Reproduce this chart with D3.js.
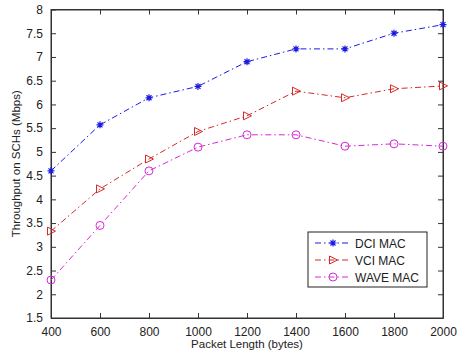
<!DOCTYPE html>
<html>
<head>
<meta charset="utf-8">
<script src="https://cdn.jsdelivr.net/npm/d3@7"></script>
<style>
body { margin: 0; background: #fff; }
text { font-family: "Liberation Sans", Arial, sans-serif; }
</style>
</head>
<body>
<div id="chart"></div>
<script>
// data
var packetLength = [400, 600, 800, 1000, 1200, 1400, 1600, 1800, 2000];
var dciMac  = [4.6, 5.57, 6.14, 6.38, 6.9, 7.17, 7.17, 7.5, 7.68];
var vciMac  = [3.33, 4.22, 4.85, 5.43, 5.76, 6.28, 6.14, 6.33, 6.39];
var waveMac = [2.3, 3.45, 4.6, 5.1, 5.36, 5.36, 5.12, 5.17, 5.12];
var xTicks = [400, 600, 800, 1000, 1200, 1400, 1600, 1800, 2000];
var yTicks = [1.5, 2, 2.5, 3, 3.5, 4, 4.5, 5, 5.5, 6, 6.5, 7, 7.5, 8];

var series = [
	{ name: 'DCI MAC', values: dciMac, color: '#1a1ae6', marker: 'star' },
	{ name: 'VCI MAC', values: vciMac, color: '#d42a2a', marker: 'tri' },
	{ name: 'WAVE MAC', values: waveMac, color: '#d62ad6', marker: 'circle' }
];

// build canvas
var width = 459,
	height = 354;
var margin = { left: 51, top: 9.5, right: 16, bottom: 36 };
var pw = width - margin.left - margin.right,
	ph = height - margin.top - margin.bottom;

var svg = d3.select('#chart').append('svg')
	.attr('width', width)
	.attr('height', height);

var x = d3.scaleLinear().domain([400, 2000]).range([margin.left, margin.left + pw]);
var y = d3.scaleLinear().domain([1.5, 8]).range([margin.top + ph, margin.top]);

// axes with inward ticks
var fmt = d => String(d);
svg.append('g')
	.attr('transform', 'translate(0,' + (margin.top + ph) + ')')
	.call(d3.axisBottom(x).tickValues(xTicks).tickFormat(fmt).tickSizeInner(-5).tickSizeOuter(0).tickPadding(9));
svg.append('g')
	.attr('transform', 'translate(0,' + margin.top + ')')
	.call(d3.axisTop(x).tickValues(xTicks).tickFormat('').tickSizeInner(-5).tickSizeOuter(0));
svg.append('g')
	.attr('transform', 'translate(' + margin.left + ',0)')
	.call(d3.axisLeft(y).tickValues(yTicks).tickFormat(fmt).tickSizeInner(-5).tickSizeOuter(0).tickPadding(8));
svg.append('g')
	.attr('transform', 'translate(' + (margin.left + pw) + ',0)')
	.call(d3.axisRight(y).tickValues(yTicks).tickFormat('').tickSizeInner(-5).tickSizeOuter(0));

svg.selectAll('.domain').attr('stroke', '#333');
svg.selectAll('.tick line').attr('stroke', '#333');
svg.selectAll('.tick text').attr('font-size', 12).attr('fill', '#222');

svg.append('rect')
	.attr('x', margin.left).attr('y', margin.top)
	.attr('width', pw).attr('height', ph)
	.attr('fill', 'none').attr('stroke', '#333');

// axis labels
svg.append('text')
	.attr('x', margin.left + pw / 2).attr('y', 348)
	.attr('text-anchor', 'middle').attr('font-size', 11.5).attr('fill', '#222')
	.text('Packet Length (bytes)');
svg.append('text')
	.attr('transform', 'translate(20,' + (margin.top + ph / 2) + ') rotate(-90)')
	.attr('text-anchor', 'middle').attr('font-size', 11.5).attr('fill', '#222')
	.text('Throughput on SCHs (Mbps)');

// markers
function drawMarker(g, type, color) {
	if (type === 'star') {
		g.append('path').attr('d', 'M-3.5,0H3.5M0,-3.5V3.5M-2.5,-2.5L2.5,2.5M-2.5,2.5L2.5,-2.5')
			.attr('stroke', color).attr('stroke-width', 1.2);
	} else if (type === 'tri') {
		g.append('path').attr('d', 'M-3.5,-4L4.5,0L-3.5,4Z')
			.attr('fill', 'none').attr('stroke', color).attr('stroke-width', 1);
	} else {
		g.append('circle').attr('r', 4)
			.attr('fill', 'none').attr('stroke', color).attr('stroke-width', 1);
	}
}

var line = d3.line()
	.x((d, i) => x(packetLength[i]))
	.y(d => y(d));

series.forEach(function(s) {
	svg.append('path')
		.datum(s.values)
		.attr('d', line)
		.attr('fill', 'none')
		.attr('stroke', s.color)
		.attr('stroke-width', 1)
		.attr('stroke-dasharray', '6,3,1.5,3');
	s.values.forEach(function(v, i) {
		var g = svg.append('g').attr('transform', 'translate(' + x(packetLength[i]) + ',' + y(v) + ')');
		drawMarker(g, s.marker, s.color);
	});
});

// legend
var legend = svg.append('g').attr('transform', 'translate(308,232)');
legend.append('rect')
	.attr('width', 119).attr('height', 55)
	.attr('fill', '#fff').attr('stroke', '#222');
series.forEach(function(s, i) {
	var ly = 11 + i * 17;
	legend.append('line')
		.attr('x1', 7).attr('x2', 43).attr('y1', ly).attr('y2', ly)
		.attr('stroke', s.color).attr('stroke-dasharray', '6,3,1.5,3');
	drawMarker(legend.append('g').attr('transform', 'translate(25,' + ly + ')'), s.marker, s.color);
	legend.append('text')
		.attr('x', 47).attr('y', ly + 4.5)
		.attr('font-size', 12).attr('fill', '#222')
		.text(s.name);
});
</script>
</body>
</html>
